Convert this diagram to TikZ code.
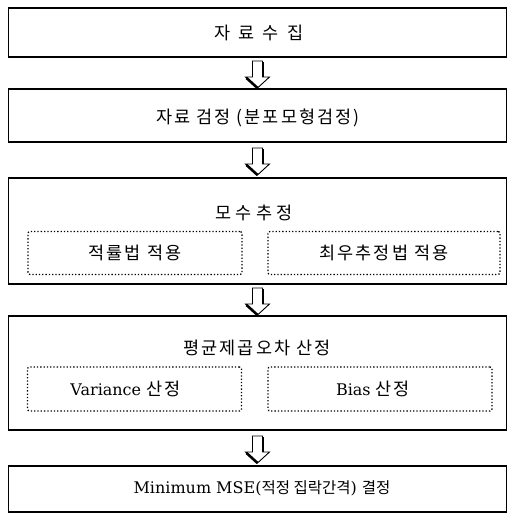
\documentclass[tikz,border=0pt]{standalone}
\usepackage{fontspec}
\setmainfont{DejaVu Serif}
\newfontfamily\kr[LetterSpace=12]{Noto Sans CJK KR}
\newfontfamily\krn{Noto Sans CJK KR}
\usetikzlibrary{calc}
\tikzset{
  mainbox/.style={draw, line width=1.6pt, minimum width=498pt, inner sep=0pt},
  subbox/.style={draw, dotted, line width=1.3pt, rounded corners=2pt, inner sep=0pt},
  lbl/.style={font=\fontsize{16}{20}\selectfont, inner sep=0pt},
}
\newcommand\krt[1]{{\kr\fontsize{17.5}{21}\selectfont #1}}
\newcommand\krs[1]{{\krn\fontsize{15.5}{20}\selectfont #1}}
\newcommand\blockarrow[2]{%
  \begin{scope}[shift={($(#1.south)!0.5!(#2.north)$)}]
    \filldraw[fill=white, draw=black, line width=0.9pt, line join=miter] (-5,-12) -- (-5,4) -- (-12,4) -- (0,15) -- (12,4) -- (5,4) -- (5,-12) -- cycle;
    \draw[line width=2.6pt] (-11,5) -- (0,15);
    \draw[line width=2.2pt] (5.5,-11) -- (5.5,4);
  \end{scope}}
\begin{document}
\begin{tikzpicture}[x=1pt,y=-1pt]
\useasboundingbox (0,0) rectangle (510,513);
% main boxes
\node[mainbox, minimum height=49pt] (b1) at (257.5,32.5) {};
\node[mainbox, minimum height=53pt] (b2) at (257.5,115.5) {};
\node[mainbox, minimum height=106pt] (b3) at (257.5,231) {};
\node[mainbox, minimum height=114pt] (b4) at (257.5,373) {};
\node[mainbox, minimum height=46pt] (b5) at (257.5,489) {};
% titles
\node[lbl] (t1) at (259,33) {\krt{자\hspace{8pt}료\hspace{8pt}수\hspace{8pt}집}};
\node[lbl] (t2) at (258,118) {\krt{자료 검정 (분포모형검정)}};
\node[lbl] (t3) at (254,213) {\krt{모\hspace{4pt}수\hspace{4pt}추\hspace{4pt}정}};
\node[lbl] (t4) at (257,348) {\krt{평균제곱오차 산정}};
\node[lbl] (t5) at (262,488) {Minimum MSE(\krs{적정 집락간격}) \krs{결정}};
% sub boxes
\node[subbox, minimum width=214pt, minimum height=43pt] (s1) at (135,253) {};
\node[subbox, minimum width=232pt, minimum height=43pt] (s2) at (384,253) {};
\node[subbox, minimum width=214pt, minimum height=44pt] (s3) at (134.5,389) {};
\node[subbox, minimum width=224pt, minimum height=44pt] (s4) at (380,389) {};
\node[lbl] at (s1) {\krt{적률법 적용}};
\node[lbl] at (s2) {\krt{최우추정법 적용}};
\node[lbl] at ([xshift=-9pt]s3.center) {Variance \krt{산정}};
\node[lbl] at ([xshift=-7pt]s4.center) {Bias \krt{산정}};
% block arrows
\blockarrow{b1}{b2}
\blockarrow{b2}{b3}
\blockarrow{b3}{b4}
\blockarrow{b4}{b5}
\end{tikzpicture}
\end{document}
